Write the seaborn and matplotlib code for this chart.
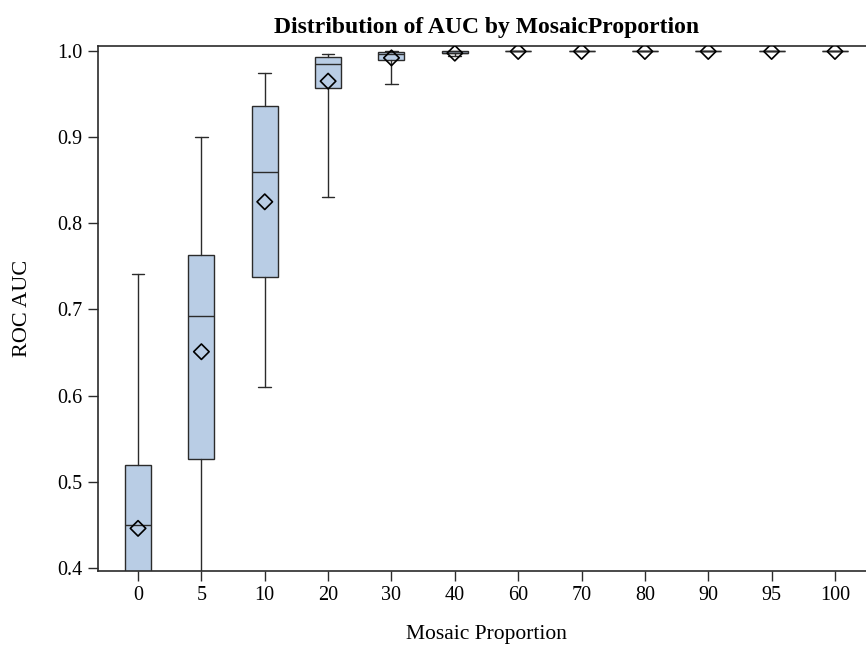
import matplotlib
matplotlib.use("Agg")
import matplotlib.pyplot as plt
import seaborn as sns

# Box statistics (ROC AUC per mosaic proportion)
proportions = ["0", "5", "10", "20", "30", "40", "60", "70", "80", "90", "95", "100"]
whisker_low = [0.25, 0.30, 0.610, 0.830, 0.962, 0.994, 0.9995, 0.9995, 0.9995, 0.9995, 0.9995, 0.9995]
q1 = [0.37, 0.526, 0.738, 0.957, 0.990, 0.9975, 0.9995, 0.9995, 0.9995, 0.9995, 0.9995, 0.9995]
median = [0.450, 0.693, 0.860, 0.985, 0.997, 0.998, 0.9995, 0.9995, 0.9995, 0.9995, 0.9995, 0.9995]
q3 = [0.519, 0.763, 0.936, 0.993, 0.9985, 0.9995, 0.9998, 0.9998, 0.9998, 0.9998, 0.9998, 0.9998]
whisker_high = [0.741, 0.900, 0.974, 0.997, 1.000, 1.000, 1.000, 1.000, 1.000, 1.000, 1.000, 1.000]
mean = [0.446, 0.651, 0.825, 0.965, 0.992, 0.9975, 0.9995, 0.9995, 0.9995, 0.9995, 0.9995, 0.9995]

sns.set_style("ticks")
plt.rcParams["font.family"] = ["Liberation Serif", "DejaVu Serif"]
plt.rcParams["text.color"] = "black"
plt.rcParams["axes.labelcolor"] = "black"
plt.rcParams["xtick.labelcolor"] = "black"
plt.rcParams["ytick.labelcolor"] = "black"

fig = plt.figure(figsize=(8.66, 6.46), dpi=100)
ax = fig.add_axes([98 / 866, 75 / 646, 777 / 866, 525 / 646])

stats = []
for i, lab in enumerate(proportions):
    stats.append({
        "label": lab,
        "whislo": whisker_low[i],
        "q1": q1[i],
        "med": median[i],
        "q3": q3[i],
        "whishi": whisker_high[i],
        "fliers": [],
    })

edge = "#2b2b2b"
positions = list(range(len(proportions)))
ax.bxp(stats, positions=positions, widths=0.41, showfliers=False, patch_artist=True,
       boxprops=dict(facecolor="#b9cde5", edgecolor=edge, linewidth=1.0),
       medianprops=dict(color=edge, linewidth=1.0),
       whiskerprops=dict(color=edge, linewidth=1.0),
       capprops=dict(color=edge, linewidth=1.0), capwidths=0.2)

# mean markers
sns.scatterplot(x=positions, y=mean, marker="D", s=62, facecolor="none",
                edgecolor="black", linewidth=1.2, ax=ax, zorder=5)

ax.set_xlim(-0.632, len(proportions) - 1 + 0.632)
ax.set_ylim(0.3965, 1.0058)
ax.set_xticks(positions)
ax.set_xticklabels(proportions)
ax.set_yticks([0.4, 0.5, 0.6, 0.7, 0.8, 0.9, 1.0])
ax.set_yticklabels(["0.4", "0.5", "0.6", "0.7", "0.8", "0.9", "1.0"])
ax.tick_params(axis="both", labelsize=14.5, length=7, width=1.0, color=edge, pad=4)

for s in ax.spines.values():
    s.set_visible(True)
    s.set_linewidth(1.2)
    s.set_color(edge)

ax.set_xlabel("Mosaic Proportion", fontsize=15.5, labelpad=14)
ax.set_ylabel("ROC AUC", fontsize=16, labelpad=18)
ax.set_title("Distribution of AUC by MosaicProportion", fontsize=17, fontweight="bold", pad=9)

fig.savefig("out.png", dpi=100)
